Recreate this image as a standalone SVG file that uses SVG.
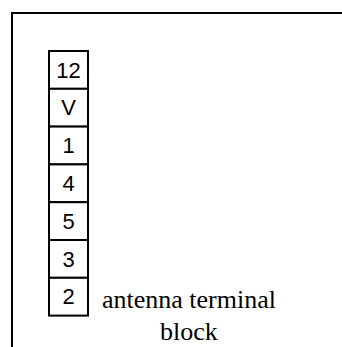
<svg xmlns="http://www.w3.org/2000/svg" width="342" height="347" viewBox="0 0 342 347">
<style>
.frame{fill:none;stroke:#000;stroke-width:2}
.box rect{fill:#fff;stroke:#000;stroke-width:2}
.box text{font-family:"Liberation Sans",Arial,sans-serif;font-size:22px;text-anchor:middle;fill:#000}
.lbl{font-family:"Liberation Serif","Times New Roman",serif;font-size:26px;text-anchor:middle;fill:#000}
</style>
<rect width="342" height="347" fill="#fff"/>
<path class="frame" d="M12,348 V13 H343"/>
<g id="t12" class="box"><rect x="49" y="51" width="39" height="37.8"/><text x="68.5" y="77.5">12</text></g>
<g id="tV" class="box"><rect x="49" y="88.8" width="39" height="37.8"/><text x="68.5" y="115.3">V</text></g>
<g id="t1" class="box"><rect x="49" y="126.6" width="39" height="37.8"/><text x="68.5" y="153.1">1</text></g>
<g id="t4" class="box"><rect x="49" y="164.4" width="39" height="37.8"/><text x="68.5" y="190.9">4</text></g>
<g id="t5" class="box"><rect x="49" y="202.2" width="39" height="37.8"/><text x="68.5" y="228.7">5</text></g>
<g id="t3" class="box"><rect x="49" y="240" width="39" height="37.8"/><text x="68.5" y="266.5">3</text></g>
<g id="t2" class="box"><rect x="49" y="277.8" width="39" height="37.8"/><text x="68.5" y="304.3">2</text></g>
<g id="label"><text class="lbl" x="189" y="308">antenna terminal</text><text class="lbl" x="189" y="340">block</text></g>
</svg>
